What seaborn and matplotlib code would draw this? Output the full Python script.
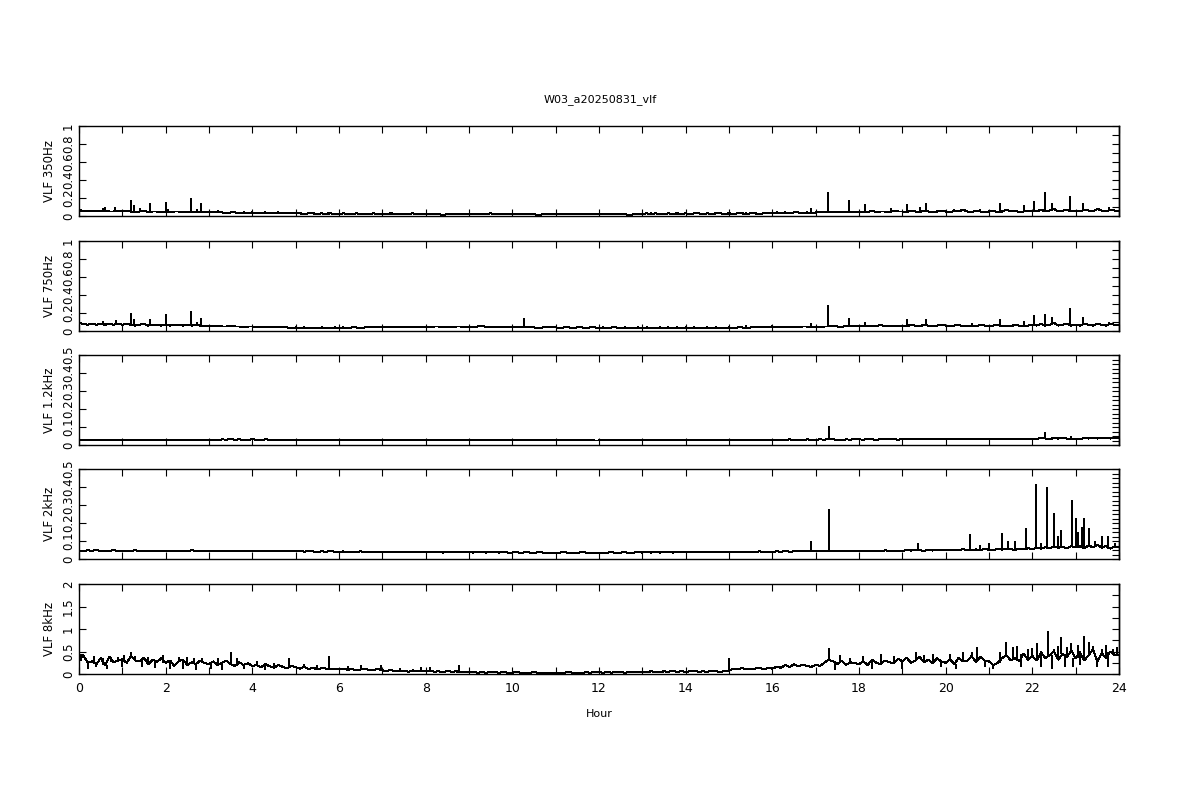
import numpy as np
import pandas as pd
import matplotlib
matplotlib.use('Agg')
import matplotlib.pyplot as plt
import seaborn as sns
from matplotlib.ticker import MultipleLocator

# Panel names and y ranges
panels = ['VLF 350Hz', 'VLF 750Hz', 'VLF 1.2kHz', 'VLF 2kHz', 'VLF 8kHz']
y_max = [1.0, 1.0, 0.5, 0.5, 2.0]

# base level, one value per 0.1 hour (10 values per row = 1 hour)
base_350 = [
    0.06, 0.05, 0.06, 0.05, 0.06, 0.05, 0.06, 0.05, 0.05, 0.06,
    0.05, 0.06, 0.05, 0.04, 0.05, 0.06, 0.04, 0.05, 0.05, 0.04,
    0.05, 0.04, 0.05, 0.05, 0.04, 0.05, 0.04, 0.05, 0.04, 0.04,
    0.04, 0.05, 0.04, 0.04, 0.03, 0.04, 0.04, 0.03, 0.04, 0.03,
    0.04, 0.03, 0.03, 0.04, 0.03, 0.03, 0.04, 0.03, 0.03, 0.03,
    0.03, 0.03, 0.02, 0.03, 0.03, 0.02, 0.03, 0.02, 0.03, 0.02,
    0.02, 0.03, 0.02, 0.02, 0.03, 0.02, 0.02, 0.02, 0.03, 0.02,
    0.02, 0.02, 0.03, 0.02, 0.02, 0.02, 0.02, 0.03, 0.02, 0.02,
    0.02, 0.02, 0.02, 0.02, 0.01, 0.02, 0.02, 0.02, 0.02, 0.02,
    0.02, 0.02, 0.02, 0.02, 0.02, 0.03, 0.02, 0.02, 0.02, 0.02,
    0.02, 0.02, 0.02, 0.02, 0.02, 0.02, 0.01, 0.02, 0.02, 0.02,
    0.02, 0.02, 0.02, 0.02, 0.02, 0.02, 0.02, 0.02, 0.02, 0.02,
    0.02, 0.02, 0.02, 0.02, 0.02, 0.02, 0.02, 0.01, 0.02, 0.02,
    0.02, 0.03, 0.02, 0.03, 0.02, 0.02, 0.03, 0.02, 0.03, 0.02,
    0.03, 0.02, 0.03, 0.03, 0.02, 0.03, 0.02, 0.03, 0.03, 0.02,
    0.03, 0.02, 0.03, 0.03, 0.02, 0.03, 0.03, 0.02, 0.03, 0.03,
    0.03, 0.04, 0.03, 0.04, 0.03, 0.04, 0.04, 0.03, 0.04, 0.03,
    0.04, 0.04, 0.05, 0.04, 0.05, 0.04, 0.04, 0.05, 0.04, 0.05,
    0.04, 0.05, 0.04, 0.06, 0.04, 0.05, 0.05, 0.04, 0.06, 0.05,
    0.05, 0.04, 0.06, 0.05, 0.04, 0.06, 0.05, 0.04, 0.05, 0.06,
    0.05, 0.04, 0.06, 0.05, 0.07, 0.05, 0.04, 0.06, 0.05, 0.04,
    0.05, 0.06, 0.04, 0.05, 0.07, 0.05, 0.06, 0.04, 0.05, 0.06,
    0.06, 0.05, 0.07, 0.05, 0.06, 0.08, 0.05, 0.06, 0.07, 0.05,
    0.06, 0.05, 0.07, 0.06, 0.05, 0.08, 0.06, 0.05, 0.07, 0.06,
]
spike_t_350 = [0.05, 0.55, 0.6, 0.83, 1.2, 1.27, 1.4, 1.64, 2.0, 2.05, 2.58, 2.72, 2.82,
               3.2, 5.75, 13.2, 15.4, 16.0, 16.9, 17.28, 17.77, 18.15, 18.73, 19.1, 19.4,
               19.55, 20.2, 20.8, 21.26, 21.8, 22.04, 22.3, 22.45, 22.87, 23.17, 23.77]
spike_v_350 = [0.08, 0.09, 0.1, 0.1, 0.18, 0.12, 0.09, 0.14, 0.16, 0.08, 0.2, 0.08, 0.14,
               0.07, 0.05, 0.04, 0.04, 0.05, 0.09, 0.27, 0.18, 0.13, 0.09, 0.13, 0.1,
               0.15, 0.08, 0.08, 0.15, 0.12, 0.17, 0.27, 0.15, 0.22, 0.14, 0.1]

base_750 = [
    0.09, 0.08, 0.07, 0.08, 0.07, 0.08, 0.07, 0.08, 0.07, 0.08,
    0.07, 0.08, 0.07, 0.06, 0.07, 0.08, 0.06, 0.07, 0.07, 0.06,
    0.07, 0.06, 0.07, 0.07, 0.06, 0.07, 0.06, 0.07, 0.06, 0.06,
    0.06, 0.05, 0.06, 0.05, 0.05, 0.06, 0.05, 0.05, 0.04, 0.05,
    0.05, 0.04, 0.05, 0.04, 0.04, 0.05, 0.04, 0.04, 0.04, 0.03,
    0.04, 0.03, 0.04, 0.03, 0.03, 0.03, 0.04, 0.03, 0.03, 0.04,
    0.03, 0.04, 0.03, 0.04, 0.04, 0.03, 0.04, 0.04, 0.05, 0.04,
    0.04, 0.05, 0.04, 0.04, 0.05, 0.04, 0.05, 0.04, 0.05, 0.04,
    0.05, 0.04, 0.05, 0.05, 0.04, 0.05, 0.04, 0.05, 0.05, 0.04,
    0.05, 0.04, 0.05, 0.06, 0.04, 0.05, 0.04, 0.05, 0.04, 0.05,
    0.04, 0.05, 0.04, 0.05, 0.04, 0.04, 0.03, 0.04, 0.05, 0.04,
    0.04, 0.03, 0.04, 0.04, 0.03, 0.04, 0.04, 0.03, 0.04, 0.04,
    0.03, 0.04, 0.03, 0.04, 0.04, 0.03, 0.04, 0.03, 0.03, 0.04,
    0.03, 0.04, 0.03, 0.03, 0.04, 0.03, 0.04, 0.03, 0.04, 0.03,
    0.04, 0.03, 0.04, 0.03, 0.03, 0.04, 0.03, 0.04, 0.03, 0.03,
    0.04, 0.03, 0.04, 0.04, 0.03, 0.04, 0.04, 0.05, 0.04, 0.04,
    0.04, 0.05, 0.04, 0.05, 0.04, 0.05, 0.04, 0.05, 0.05, 0.04,
    0.05, 0.04, 0.05, 0.05, 0.06, 0.05, 0.04, 0.06, 0.05, 0.06,
    0.05, 0.06, 0.05, 0.06, 0.05, 0.07, 0.05, 0.06, 0.05, 0.06,
    0.06, 0.05, 0.07, 0.06, 0.05, 0.07, 0.06, 0.05, 0.06, 0.07,
    0.06, 0.05, 0.06, 0.07, 0.05, 0.06, 0.06, 0.05, 0.07, 0.06,
    0.05, 0.06, 0.07, 0.05, 0.06, 0.05, 0.07, 0.06, 0.05, 0.06,
    0.07, 0.06, 0.08, 0.06, 0.07, 0.09, 0.06, 0.07, 0.08, 0.06,
    0.07, 0.06, 0.08, 0.07, 0.06, 0.08, 0.07, 0.06, 0.08, 0.07,
]
spike_t_750 = [0.55, 0.85, 1.2, 1.27, 1.64, 2.0, 2.58, 2.72, 2.82, 10.27, 15.4, 16.0,
               16.9, 17.28, 17.77, 18.15, 19.1, 19.55, 20.6, 21.26, 21.8, 22.04, 22.3,
               22.45, 22.87, 23.17, 23.77]
spike_v_750 = [0.11, 0.12, 0.2, 0.13, 0.13, 0.19, 0.22, 0.1, 0.15, 0.15, 0.07, 0.07,
               0.09, 0.29, 0.15, 0.1, 0.13, 0.13, 0.09, 0.13, 0.11, 0.18, 0.19,
               0.16, 0.26, 0.16, 0.1]

base_1k2 = [
    0.028, 0.026, 0.027, 0.025, 0.027, 0.026, 0.028, 0.026, 0.027, 0.025,
    0.026, 0.027, 0.025, 0.026, 0.028, 0.026, 0.025, 0.027, 0.026, 0.027,
    0.026, 0.025, 0.027, 0.026, 0.028, 0.025, 0.027, 0.026, 0.025, 0.027,
    0.028, 0.030, 0.029, 0.031, 0.030, 0.032, 0.030, 0.031, 0.029, 0.030,
    0.031, 0.030, 0.029, 0.031, 0.030, 0.029, 0.030, 0.028, 0.029, 0.030,
    0.029, 0.028, 0.030, 0.029, 0.028, 0.027, 0.029, 0.028, 0.027, 0.028,
    0.027, 0.026, 0.028, 0.027, 0.026, 0.027, 0.026, 0.028, 0.027, 0.026,
    0.027, 0.026, 0.027, 0.028, 0.026, 0.025, 0.027, 0.026, 0.025, 0.026,
    0.025, 0.026, 0.025, 0.027, 0.026, 0.025, 0.026, 0.027, 0.025, 0.026,
    0.026, 0.025, 0.027, 0.026, 0.025, 0.026, 0.027, 0.026, 0.025, 0.026,
    0.025, 0.026, 0.025, 0.026, 0.027, 0.025, 0.026, 0.025, 0.027, 0.026,
    0.026, 0.025, 0.026, 0.027, 0.025, 0.026, 0.025, 0.026, 0.027, 0.025,
    0.025, 0.026, 0.025, 0.026, 0.025, 0.027, 0.026, 0.025, 0.026, 0.025,
    0.026, 0.027, 0.026, 0.025, 0.027, 0.026, 0.028, 0.026, 0.027, 0.026,
    0.027, 0.026, 0.028, 0.027, 0.026, 0.028, 0.027, 0.026, 0.027, 0.028,
    0.027, 0.028, 0.027, 0.029, 0.028, 0.027, 0.029, 0.028, 0.030, 0.028,
    0.029, 0.028, 0.030, 0.029, 0.031, 0.029, 0.030, 0.029, 0.031, 0.030,
    0.030, 0.031, 0.030, 0.032, 0.031, 0.030, 0.029, 0.031, 0.030, 0.032,
    0.031, 0.030, 0.032, 0.031, 0.030, 0.031, 0.033, 0.031, 0.032, 0.030,
    0.032, 0.031, 0.033, 0.032, 0.031, 0.033, 0.032, 0.031, 0.033, 0.032,
    0.033, 0.032, 0.034, 0.033, 0.032, 0.034, 0.033, 0.035, 0.033, 0.034,
    0.034, 0.033, 0.035, 0.034, 0.036, 0.034, 0.035, 0.034, 0.036, 0.035,
    0.036, 0.035, 0.038, 0.036, 0.035, 0.037, 0.036, 0.038, 0.036, 0.035,
    0.036, 0.035, 0.037, 0.036, 0.038, 0.036, 0.037, 0.039, 0.036, 0.038,
]
spike_t_1k2 = [17.3, 22.3, 22.45, 22.9]
spike_v_1k2 = [0.105, 0.075, 0.045, 0.05]

base_2k = [
    0.047, 0.045, 0.048, 0.046, 0.049, 0.045, 0.047, 0.046, 0.048, 0.046,
    0.045, 0.047, 0.046, 0.048, 0.045, 0.047, 0.046, 0.045, 0.047, 0.046,
    0.044, 0.042, 0.045, 0.043, 0.046, 0.045, 0.048, 0.046, 0.045, 0.047,
    0.046, 0.045, 0.044, 0.046, 0.045, 0.047, 0.044, 0.046, 0.045, 0.044,
    0.045, 0.043, 0.046, 0.044, 0.042, 0.045, 0.043, 0.044, 0.042, 0.043,
    0.042, 0.044, 0.041, 0.043, 0.042, 0.040, 0.042, 0.041, 0.043, 0.041,
    0.040, 0.042, 0.039, 0.041, 0.040, 0.042, 0.039, 0.040, 0.041, 0.039,
    0.038, 0.040, 0.039, 0.038, 0.040, 0.039, 0.037, 0.039, 0.038, 0.040,
    0.038, 0.037, 0.039, 0.038, 0.036, 0.038, 0.037, 0.039, 0.037, 0.038,
    0.037, 0.036, 0.038, 0.037, 0.036, 0.038, 0.037, 0.036, 0.037, 0.036,
    0.036, 0.037, 0.035, 0.037, 0.036, 0.035, 0.037, 0.036, 0.035, 0.036,
    0.035, 0.036, 0.037, 0.035, 0.036, 0.035, 0.037, 0.036, 0.035, 0.036,
    0.036, 0.035, 0.036, 0.037, 0.035, 0.036, 0.037, 0.035, 0.036, 0.037,
    0.036, 0.037, 0.036, 0.038, 0.036, 0.037, 0.038, 0.036, 0.037, 0.038,
    0.037, 0.038, 0.037, 0.039, 0.038, 0.037, 0.039, 0.038, 0.040, 0.038,
    0.039, 0.038, 0.040, 0.039, 0.041, 0.039, 0.040, 0.042, 0.040, 0.041,
    0.040, 0.042, 0.041, 0.043, 0.041, 0.042, 0.044, 0.042, 0.043, 0.045,
    0.043, 0.044, 0.043, 0.046, 0.044, 0.043, 0.045, 0.044, 0.046, 0.044,
    0.045, 0.044, 0.047, 0.045, 0.046, 0.044, 0.048, 0.046, 0.045, 0.047,
    0.046, 0.048, 0.047, 0.050, 0.048, 0.046, 0.049, 0.047, 0.050, 0.048,
    0.050, 0.048, 0.052, 0.050, 0.054, 0.051, 0.049, 0.053, 0.050, 0.055,
    0.052, 0.050, 0.056, 0.052, 0.058, 0.054, 0.051, 0.057, 0.053, 0.060,
    0.056, 0.060, 0.058, 0.066, 0.060, 0.070, 0.062, 0.068, 0.060, 0.072,
    0.064, 0.070, 0.060, 0.075, 0.065, 0.080, 0.062, 0.072, 0.058, 0.068,
]
spike_t_2k = [16.9, 17.3, 19.35, 20.57, 20.8, 21.0, 21.3, 21.45, 21.6, 21.85, 22.08,
              22.2, 22.34, 22.5, 22.6, 22.67, 22.92, 23.0, 23.05, 23.15, 23.2, 23.3,
              23.45, 23.6, 23.75, 23.9]
spike_v_2k = [0.098, 0.28, 0.087, 0.14, 0.08, 0.09, 0.147, 0.1, 0.1, 0.17, 0.415,
              0.09, 0.4, 0.256, 0.13, 0.16, 0.33, 0.23, 0.15, 0.18, 0.23, 0.17,
              0.1, 0.13, 0.13, 0.09]

base_8k = [
    0.30, 0.42, 0.25, 0.28, 0.22, 0.35, 0.20, 0.38, 0.26, 0.30,
    0.33, 0.25, 0.40, 0.30, 0.28, 0.36, 0.22, 0.32, 0.27, 0.35,
    0.25, 0.30, 0.18, 0.28, 0.32, 0.20, 0.26, 0.22, 0.30, 0.24,
    0.22, 0.28, 0.20, 0.25, 0.30, 0.22, 0.18, 0.26, 0.20, 0.24,
    0.18, 0.20, 0.15, 0.22, 0.17, 0.14, 0.20, 0.16, 0.13, 0.18,
    0.15, 0.12, 0.16, 0.11, 0.14, 0.10, 0.13, 0.12, 0.10, 0.12,
    0.10, 0.12, 0.09, 0.11, 0.08, 0.10, 0.12, 0.08, 0.09, 0.11,
    0.08, 0.07, 0.09, 0.06, 0.08, 0.07, 0.05, 0.08, 0.06, 0.07,
    0.06, 0.08, 0.05, 0.06, 0.04, 0.07, 0.05, 0.06, 0.04, 0.05,
    0.04, 0.05, 0.03, 0.04, 0.03, 0.05, 0.04, 0.03, 0.04, 0.03,
    0.03, 0.04, 0.03, 0.02, 0.03, 0.04, 0.03, 0.03, 0.02, 0.03,
    0.03, 0.02, 0.03, 0.04, 0.03, 0.03, 0.02, 0.04, 0.03, 0.05,
    0.04, 0.03, 0.04, 0.03, 0.05, 0.04, 0.03, 0.04, 0.05, 0.04,
    0.05, 0.04, 0.06, 0.05, 0.04, 0.06, 0.05, 0.07, 0.05, 0.06,
    0.05, 0.06, 0.07, 0.05, 0.06, 0.05, 0.07, 0.06, 0.05, 0.06,
    0.08, 0.12, 0.10, 0.13, 0.11, 0.10, 0.12, 0.14, 0.11, 0.13,
    0.12, 0.16, 0.14, 0.20, 0.15, 0.22, 0.17, 0.21, 0.18, 0.16,
    0.20, 0.18, 0.25, 0.32, 0.28, 0.22, 0.30, 0.20, 0.26, 0.24,
    0.22, 0.28, 0.20, 0.32, 0.25, 0.22, 0.30, 0.26, 0.24, 0.34,
    0.28, 0.36, 0.25, 0.30, 0.38, 0.26, 0.32, 0.24, 0.35, 0.28,
    0.25, 0.32, 0.22, 0.36, 0.28, 0.30, 0.40, 0.26, 0.38, 0.30,
    0.28, 0.20, 0.25, 0.35, 0.42, 0.30, 0.36, 0.28, 0.45, 0.32,
    0.40, 0.30, 0.48, 0.35, 0.42, 0.50, 0.32, 0.45, 0.38, 0.52,
    0.35, 0.48, 0.30, 0.42, 0.55, 0.28, 0.46, 0.36, 0.50, 0.42,
]
spike_t_8k = [0.05, 0.1, 0.2, 0.35, 0.4, 0.55, 0.65, 0.75, 0.9, 1.0, 1.05, 1.2, 1.3,
              1.45, 1.6, 1.75, 1.95, 2.1, 2.3, 2.4, 2.5, 2.65, 2.7, 2.85, 3.05, 3.2,
              3.3, 3.5, 3.65, 3.8, 4.1, 4.3, 4.5, 4.85, 5.2, 5.5, 5.78, 6.2, 6.5,
              6.98, 7.4, 7.9, 8.1, 8.77, 15.0, 17.3, 17.45, 17.55, 17.8, 18.1, 18.3,
              18.5, 18.8, 19.0, 19.32, 19.5, 19.7, 19.9, 20.1, 20.25, 20.4, 20.6,
              20.73, 20.9, 21.1, 21.25, 21.4, 21.55, 21.65, 21.75, 21.9, 22.0, 22.1,
              22.2, 22.35, 22.45, 22.5, 22.6, 22.67, 22.75, 22.8, 22.9, 22.95, 23.05,
              23.1, 23.2, 23.3, 23.4, 23.5, 23.6, 23.7, 23.75, 23.85, 23.95]
spike_v_8k = [0.45, 0.42, 0.12, 0.4, 0.15, 0.35, 0.12, 0.38, 0.38, 0.15, 0.42, 0.5, 0.4,
              0.15, 0.38, 0.14, 0.42, 0.12, 0.38, 0.12, 0.38, 0.35, 0.1, 0.35, 0.12, 0.35,
              0.1, 0.48, 0.35, 0.12, 0.28, 0.08, 0.25, 0.35, 0.22, 0.2, 0.4, 0.18, 0.2,
              0.2, 0.14, 0.15, 0.15, 0.2, 0.36, 0.58, 0.1, 0.42, 0.35, 0.4, 0.12,
              0.45, 0.4, 0.12, 0.5, 0.42, 0.45, 0.15, 0.45, 0.12, 0.48, 0.5,
              0.6, 0.15, 0.12, 0.5, 0.72, 0.6, 0.62, 0.15, 0.55, 0.58, 0.68,
              0.15, 0.95, 0.12, 0.55, 0.62, 0.82, 0.15, 0.6, 0.7, 0.15, 0.65,
              0.2, 0.85, 0.72, 0.62, 0.15, 0.55, 0.65, 0.15, 0.55, 0.6]

bases = [base_350, base_750, base_1k2, base_2k, base_8k]
spike_ts = [spike_t_350, spike_t_750, spike_t_1k2, spike_t_2k, spike_t_8k]
spike_vs = [spike_v_350, spike_v_750, spike_v_1k2, spike_v_2k, spike_v_8k]

left_step = [0.2, 0.2, 0.1, 0.1, 0.5]
right_step = [0.1, 0.1, 0.025, 0.025, 0.25]

sns.set_theme(style='white')
plt.rcParams['font.family'] = ['DejaVu Sans']
plt.rcParams['axes.linewidth'] = 1.0
plt.rcParams['text.color'] = 'black'
plt.rcParams['axes.labelcolor'] = 'black'
plt.rcParams['xtick.color'] = 'black'
plt.rcParams['ytick.color'] = 'black'

fig = plt.figure(figsize=(12, 8), dpi=100)
fig.text(0.5, 1 - 100 / 800, 'W03_a20250831_vlf', ha='center', va='center', fontsize=8)

tops = [126, 241, 355, 469, 584]
for i, name in enumerate(panels):
    ax = fig.add_axes([79 / 1200, 1 - (tops[i] + 90) / 800, 1040 / 1200, 90 / 800])
    hours = [0.1 * k for k in range(len(bases[i]))] + [24.0]
    vals = list(bases[i]) + [bases[i][-1]]
    df = pd.DataFrame({'Hour': hours, 'value': vals})
    sns.lineplot(data=df, x='Hour', y='value', ax=ax, color='black', lw=0.72,
                 estimator=None, antialiased=False)
    # narrow spikes rise (or dip) from the local base level
    foot = [bases[i][min(int(round(t * 10)), len(bases[i]) - 1)] for t in spike_ts[i]]
    ax.vlines(spike_ts[i], foot, spike_vs[i], color='black', lw=1.2, antialiased=False)
    ax.set_xlim(0, 24)
    ax.set_ylim(0, y_max[i])
    for s in ax.spines.values():
        s.set_visible(True)
        s.set_color('black')
    ax.xaxis.set_major_locator(MultipleLocator(2))
    ax.xaxis.set_minor_locator(MultipleLocator(1))
    ax.yaxis.set_major_locator(MultipleLocator(left_step[i]))
    ax.tick_params(axis='both', which='both', direction='in', length=5, width=0.8,
                   colors='black', top=True, bottom=True, left=True, right=False)
    ax.tick_params(axis='y', labelsize=8.5, pad=3)
    ax.yaxis.set_major_formatter(matplotlib.ticker.FuncFormatter(lambda v, p: f'{v:g}'))
    for lbl in ax.get_yticklabels():
        lbl.set_rotation(90)
        lbl.set_va('center')
    sec = ax.secondary_yaxis('right')
    sec.yaxis.set_major_locator(MultipleLocator(right_step[i]))
    sec.tick_params(direction='in', length=5, width=0.8, labelright=False, colors='black')
    sec.spines['right'].set_color('black')
    ax.set_ylabel(name, fontsize=8.5, labelpad=4)
    if i < 4:
        ax.set_xlabel('')
        ax.tick_params(axis='x', labelbottom=False)
    else:
        ax.tick_params(axis='x', labelsize=9, pad=6)
        ax.set_xlabel('Hour', fontsize=8, labelpad=10)

fig.savefig('out.png', dpi=100)
